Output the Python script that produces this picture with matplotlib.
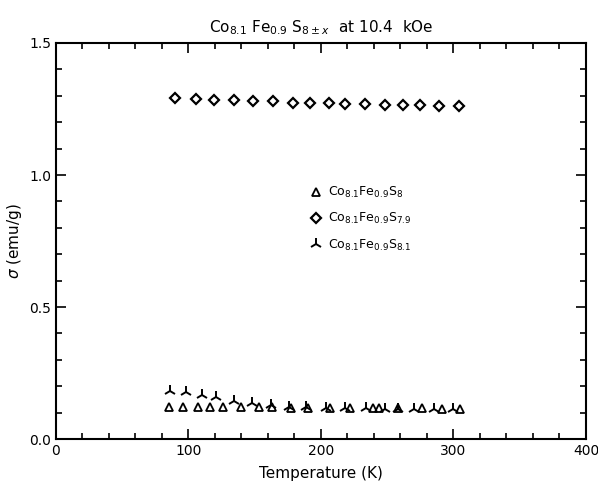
import matplotlib
matplotlib.use("Agg")
import matplotlib.pyplot as plt
from matplotlib.ticker import MultipleLocator

# Data
T_s79 = [90, 106, 119, 134, 149, 164, 179, 192, 206, 218, 233, 248, 262, 275, 289, 304]
sig_s79 = [1.291, 1.287, 1.284, 1.284, 1.280, 1.281, 1.271, 1.273, 1.271, 1.268,
           1.269, 1.265, 1.265, 1.265, 1.261, 1.261]

T_s8 = [85, 96, 107, 116, 126, 140, 153, 163, 177, 190, 207, 222, 239, 244, 258, 276, 291, 305]
sig_s8 = [0.123, 0.123, 0.123, 0.123, 0.122, 0.121, 0.120, 0.120, 0.119, 0.118,
          0.118, 0.117, 0.117, 0.117, 0.116, 0.116, 0.115, 0.115]

T_s81 = [86, 98, 110, 121, 134, 148, 162, 176, 189, 204, 218, 234, 248, 258, 270, 285, 300]
sig_s81 = [0.183, 0.178, 0.168, 0.160, 0.145, 0.137, 0.129, 0.123, 0.120, 0.118,
           0.117, 0.116, 0.115, 0.114, 0.113, 0.113, 0.113]

xticks = [0, 100, 200, 300, 400]
yticks = [0.0, 0.5, 1.0, 1.5]
xlabels = ["0", "100", "200", "300", "400"]
ylabels = ["0.0", "0.5", "1.0", "1.5"]

fig = plt.figure(figsize=(5.98, 4.83), dpi=100)
ax = fig.add_axes([0.0936, 0.091, 0.8863, 0.820])

ax.plot(T_s8, sig_s8, linestyle="none", marker="^", markersize=6,
        markerfacecolor="none", markeredgecolor="black", markeredgewidth=1.3,
        label=r"Co$_{8.1}$Fe$_{0.9}$S$_{8}$")
ax.plot(T_s79, sig_s79, linestyle="none", marker="D", markersize=5,
        markerfacecolor="none", markeredgecolor="black", markeredgewidth=1.6,
        label=r"Co$_{8.1}$Fe$_{0.9}$S$_{7.9}$")
ax.plot(T_s81, sig_s81, linestyle="none", marker="2", markersize=9,
        color="black", markeredgewidth=1.4,
        label=r"Co$_{8.1}$Fe$_{0.9}$S$_{8.1}$")

ax.set_xlim(0, 400)
ax.set_ylim(0, 1.5)
ax.set_xticks(xticks)
ax.set_xticklabels(xlabels)
ax.set_yticks(yticks)
ax.set_yticklabels(ylabels)
ax.xaxis.set_minor_locator(MultipleLocator(20))
ax.yaxis.set_minor_locator(MultipleLocator(0.1))
ax.tick_params(which="both", direction="in", top=True, right=True,
               labelsize=10, width=1.2)
ax.tick_params(which="major", length=7)
ax.tick_params(which="minor", length=4)
for s in ax.spines.values():
    s.set_linewidth(1.5)

ax.set_xlabel("Temperature (K)", fontsize=11, labelpad=6)
ax.set_ylabel(r"$\sigma$ (emu/g)", fontsize=11, labelpad=4)
ax.set_title(r"Co$_{8.1}$ Fe$_{0.9}$ S$_{8\pm x}$  at 10.4  kOe", fontsize=11, pad=8)

ax.legend(loc="upper left", bbox_to_anchor=(0.455, 0.67), frameon=False,
          fontsize=9, handletextpad=0.4, labelspacing=0.9, handlelength=1.2)

fig.savefig("out.png", dpi=100)
